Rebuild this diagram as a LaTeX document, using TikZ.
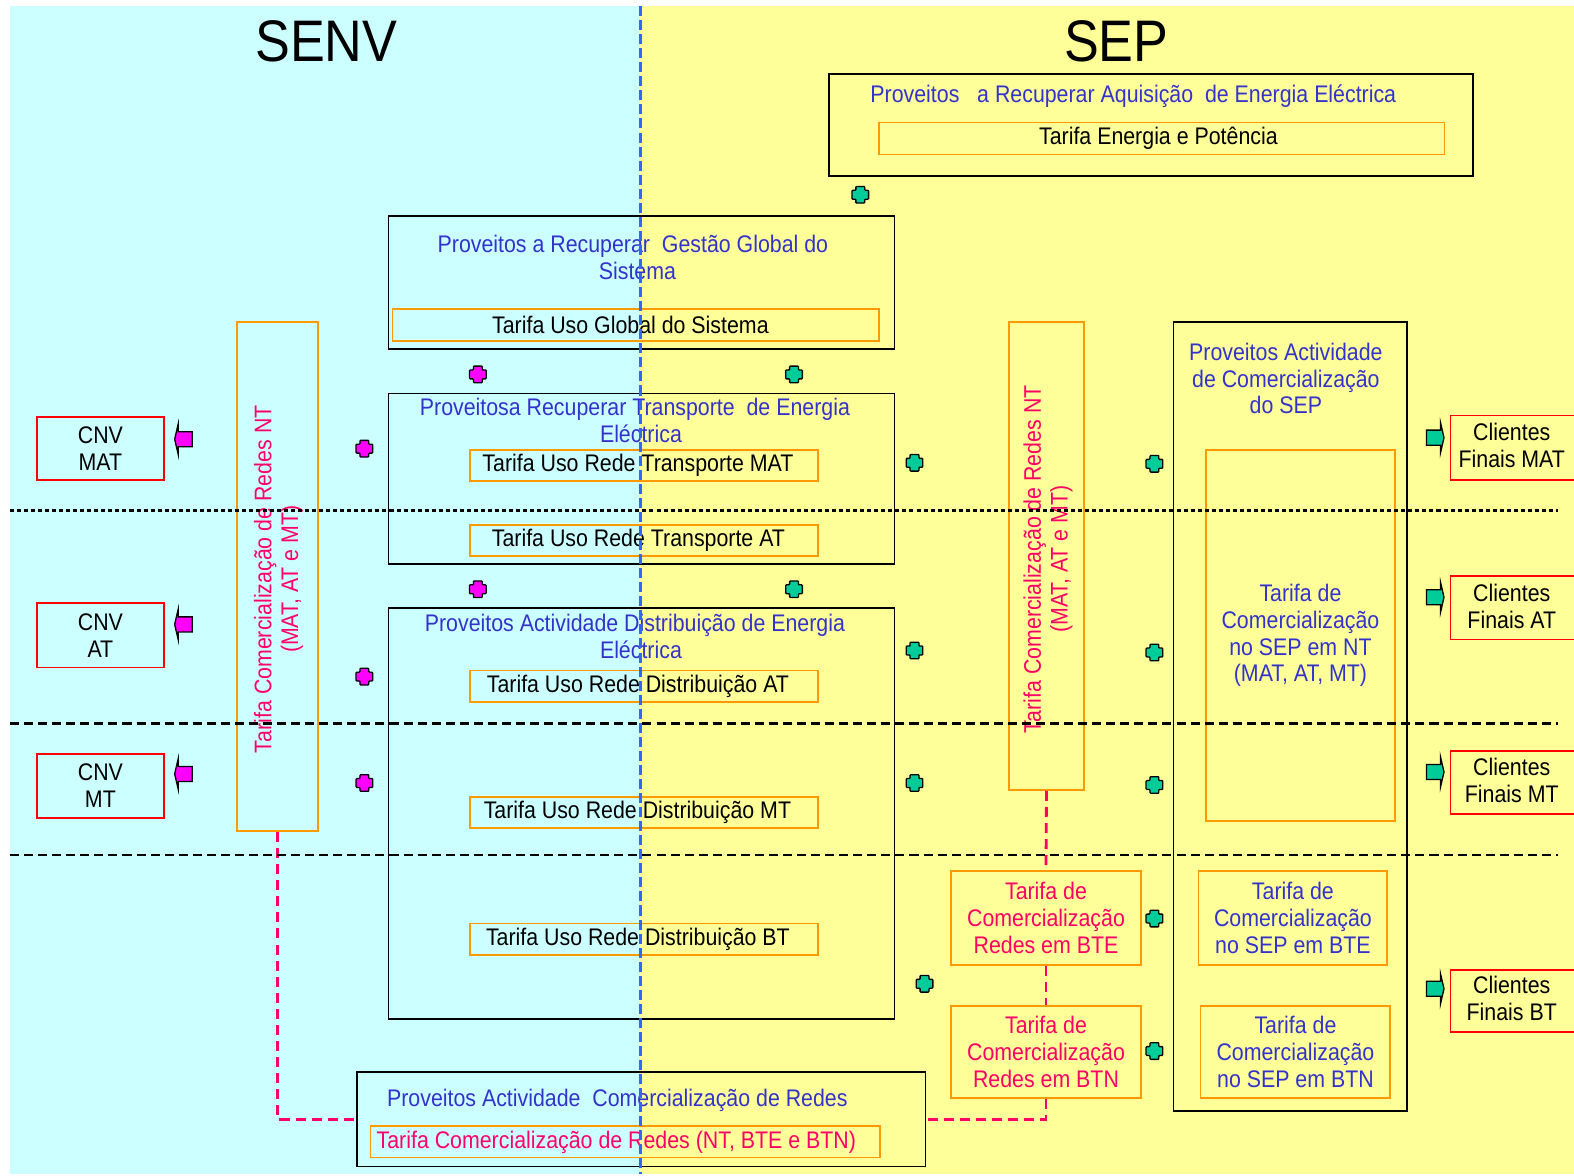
\documentclass[tikz,border=0pt]{standalone}
\usepackage{fontspec}
\setmainfont{Liberation Sans}[FakeStretch=0.89]
\definecolor{bgcyan}{HTML}{CCFFFF}
\definecolor{bgyellow}{HTML}{FFFF99}
\definecolor{tblue}{HTML}{3333CC}
\definecolor{tpink}{HTML}{FF0066}
\definecolor{borange}{HTML}{FF9900}
\definecolor{bred}{HTML}{FF0000}
\definecolor{mteal}{HTML}{00CC99}
\definecolor{mmag}{HTML}{FF00FF}
\definecolor{lblue}{HTML}{3366FF}
\begin{document}
\begin{tikzpicture}[x=1pt,y=-1pt,
  txt/.style={inner sep=0pt, align=center, font=\fontsize{23.9}{26.8}\selectfont},
  btxt/.style={txt, text=tblue},
  ptxt/.style={txt, text=tpink},
  bigtitle/.style={inner sep=0pt, font=\fontsize{58.4}{60}\selectfont},
  blackbox/.style={draw=black, line width=1.8pt, txt},
  orangebox/.style={draw=borange, line width=1.8pt, txt},
  redbox/.style={draw=bred, line width=1.8pt, txt},
  wh/.style 2 args={minimum width=#1, minimum height=#2},
  pinkdash/.style={draw=tpink, line width=2.8pt, dash pattern=on 10pt off 6pt},
  blkdash/.style={draw=black, line width=2.6pt, dash pattern=on 9pt off 5pt},
  blkdot/.style={draw=black, line width=3pt, dash pattern=on 4pt off 3pt},
  bluedash/.style={draw=lblue, line width=2.6pt, dash pattern=on 10pt off 4pt},
  pics/plusmark/.style={code={
    \draw[line width=1.3pt, fill=#1, rounded corners=0.8pt]
      (-4.4,-8.3) -- (4.4,-8.3) -- (4.4,-4.4) -- (8.3,-4.4) -- (8.3,4.4)
      -- (4.4,4.4) -- (4.4,8.3) -- (-4.4,8.3) -- (-4.4,4.4) -- (-8.3,4.4)
      -- (-8.3,-4.4) -- (-4.4,-4.4) -- cycle;}},
  pics/leftblock/.style={code={
    \draw[line width=1.3pt, fill=mmag]
      (8,-7.5) -- (-6,-7.5) -- (-6,-15) -- (-9.5,0) -- (-6,15) -- (-6,7.5)
      -- (8,7.5) -- cycle;}},
  pics/rightblock/.style={code={
    \draw[line width=1.3pt, fill=mteal]
      (-8,-7.5) -- (6,-7.5) -- (6,-15) -- (9.5,0) -- (6,15) -- (6,7.5)
      -- (-8,7.5) -- cycle;}}
]
\useasboundingbox (0,0) rectangle (1568,1171);

% the two regions
\fill[bgcyan] (10,6) rectangle (638,1170);
\fill[bgyellow] (638,6) rectangle (1568,1170);

\node[bigtitle] (senv) at (325,41.5) {SENV};
\node[bigtitle] (sep) at (1112,41.5) {SEP};

% energy acquisition
\node[blackbox, wh={641}{101}] (aq) at (1146.5,124.5) {};
\node[btxt] (aqt) at (1129,96) {Proveitos\ \ \ a Recuperar Aquisição\ \ de Energia Eléctrica};
\node[orangebox, wh={563}{32}] (tep) at (1157.5,138) {Tarifa Energia e Potência\hspace*{7pt}};

% global system management
\node[blackbox, wh={504}{133}] (ggs) at (639,281.5) {};
\node[btxt] (ggst) at (635,256.5) {Proveitos a Recuperar\ \ Gestão Global do\hspace*{9pt}\\Sistema};
\node[orangebox, wh={485}{32}] (tugs) at (633.5,324) {Tarifa Uso Global do Sistema\hspace*{11pt}};

% transport
\node[blackbox, wh={504}{170}] (trn) at (639,477) {};
\node[btxt] (trnt) at (638.5,419) {Proveitosa Recuperar Transporte\ \ de Energia\hspace*{12pt}\\Eléctrica};
\node[orangebox, wh={347}{31}] (turtmat) at (641.5,463.5) {Tarifa Uso Rede Transporte MAT\hspace*{12pt}};
\node[orangebox, wh={347}{31}] (turtat) at (641.5,538.5) {Tarifa Uso Rede Transporte AT\hspace*{11pt}};

% distribution
\node[blackbox, wh={504}{409}] (dst) at (639,810.5) {};
\node[btxt] (dstt) at (638.5,634) {Proveitos Actividade Distribuição de Energia\hspace*{12pt}\\Eléctrica};
\node[orangebox, wh={347}{31}] (turdat) at (641.5,683.5) {Tarifa Uso Rede Distribuição AT\hspace*{12pt}};
\node[orangebox, wh={347}{31}] (turdmt) at (641.5,809.5) {Tarifa Uso Rede Distribuição MT\hspace*{13pt}};
\node[orangebox, wh={347}{31}] (turdbt) at (641.5,935.5) {Tarifa Uso Rede Distribuição BT\hspace*{12pt}};

% network commercialisation
\node[blackbox, wh={566}{94}] (comred) at (639,1115) {};
\node[btxt] (comredt) at (615,1096) {Proveitos Actividade\ \ Comercialização de Redes};
\node[orangebox, ptxt, wh={508}{31}] (tcr) at (623,1137.5) {Tarifa Comercialização de Redes (NT, BTE e BTN)\hspace*{18pt}};

% vertical NT tariffs
\node[orangebox, wh={81}{507}] (lv) at (276.5,574.5) {};
\node[ptxt, rotate=90] (lvt) at (277.5,577) {Tarifa Comercialização de Redes NT\\(MAT, AT e MT)};
\node[orangebox, wh={75}{466}] (rv) at (1042.5,554) {};
\node[ptxt, rotate=90] (rvt) at (1044,557) {Tarifa Comercialização de Redes NT\\(MAT, AT e MT)};

% SEP commercialisation
\node[blackbox, wh={233}{786}] (sepc) at (1285.5,714) {};
\node[btxt] (sepct) at (1281,377) {Proveitos Actividade\\de Comercialização\\do SEP};
\node[orangebox, btxt, wh={189}{370}] (tnt) at (1295.5,633) {Tarifa de\\Comercialização\\no SEP em NT\\(MAT, AT, MT)};
\node[orangebox, btxt, wh={188}{93}] (tsbte) at (1288,914.5) {Tarifa de\\Comercialização\\no SEP em BTE};
\node[orangebox, btxt, wh={189}{92}] (tsbtn) at (1290.5,1048) {Tarifa de\\Comercialização\\no SEP em BTN};
\node[orangebox, ptxt, wh={190}{93}] (rbte) at (1042,914.5) {Tarifa de\\Comercialização\\Redes em BTE};
\node[orangebox, ptxt, wh={190}{92}] (rbtn) at (1042,1048) {Tarifa de\\Comercialização\\Redes em BTN};

% CNV boxes
\node[redbox, wh={126}{63}] (cnvmat) at (100,446.5) {CNV\\MAT};
\node[redbox, wh={126}{64}] (cnvat) at (100,633) {CNV\\AT};
\node[redbox, wh={126}{64}] (cnvmt) at (100,783) {CNV\\MT};

% final clients
\node[redbox, wh={135}{64}] (clmat) at (1512.5,446) {};
\node[txt] (clmatt) at (1506,443.5) {Clientes\\Finais MAT};
\node[redbox, wh={135}{63}] (clat) at (1512.5,605.5) {};
\node[txt] (clatt) at (1506,604.5) {Clientes\\Finais AT};
\node[redbox, wh={135}{63}] (clmt) at (1512.5,779.5) {};
\node[txt] (clmtt) at (1506,777.5) {Clientes\\Finais MT};
\node[redbox, wh={135}{62}] (clbt) at (1512.5,997) {};
\node[txt] (clbtt) at (1506,994.5) {Clientes\\Finais BT};

% flow arrows
\pic at (183.5,437.5) {leftblock};
\pic at (183.5,622) {leftblock};
\pic at (183.5,771) {leftblock};
\pic at (1429,436) {rightblock};
\pic at (1429,595) {rightblock};
\pic at (1429,769) {rightblock};
\pic at (1429,985) {rightblock};

% plus marks
\foreach \px/\py in {476/373, 363/447, 476/587, 363/674, 363/780}
  \pic at (\px,\py) {plusmark=mmag};
\foreach \px/\py in {857/194, 791/373, 911/461, 1150/462, 791/587, 911/648,
                     1150/650, 911/780, 1150/782, 1150/915, 921/980, 1150/1047}
  \pic at (\px,\py) {plusmark=mteal};

% links between network commercialisation tariffs
\draw[pinkdash] (lv.south) |- (comred.west);
\draw[pinkdash] (rv.south) -- (rbte.north);
\draw[pinkdash] (rbte.south) -- (rbtn.north);
\draw[pinkdash] (rbtn.south) |- (comred.east);

% voltage level separators
\draw[blkdot] (10,508.5) -- (1552,508.5);
\draw[blkdash] (10,720.8) -- (1552,720.8);
\draw[blkdash] (10,851.8) -- (1552,851.8);

% SENV / SEP boundary
\draw[bluedash] (638,6) -- (638,1170);
\end{tikzpicture}
\end{document}
